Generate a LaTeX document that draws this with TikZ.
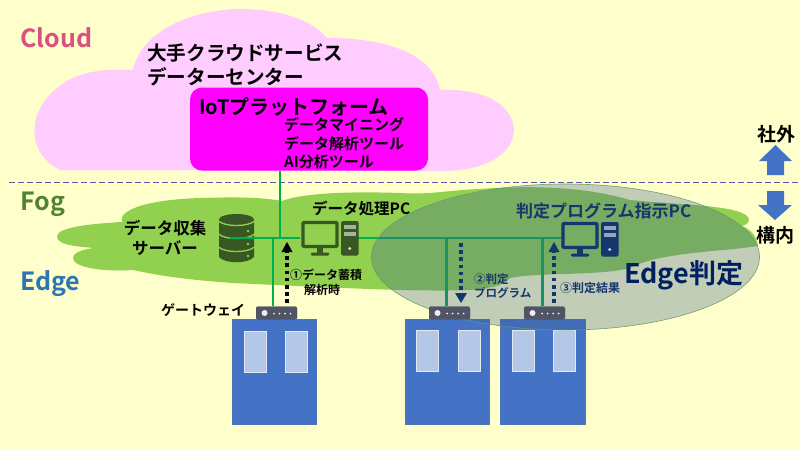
\documentclass[tikz,border=0pt]{standalone}
\usepackage{fontspec}
\setmainfont{Noto Sans CJK JP}[BoldFont={Noto Sans CJK JP Bold}]
\usetikzlibrary{arrows.meta,shapes.geometric}
\definecolor{bgc}{RGB}{255,255,204}
\definecolor{pinkc}{RGB}{255,204,255}
\definecolor{magc}{RGB}{255,0,255}
\definecolor{fogc}{RGB}{146,208,80}
\definecolor{linec}{RGB}{0,176,80}
\definecolor{dkgreen}{RGB}{56,87,35}
\definecolor{navy}{RGB}{22,54,110}
\definecolor{bldg}{RGB}{68,114,196}
\definecolor{winc}{RGB}{180,199,231}
\definecolor{gwc}{RGB}{80,84,100}
\definecolor{ellc}{RGB}{61,94,142}
\tikzset{
  x=1pt,y=-1pt,
  lbl/.style={inner sep=0pt,anchor=west,font=\bfseries\fontsize{#1}{#1}\selectfont},
  ctr/.style={inner sep=0pt,anchor=center,font=\bfseries\fontsize{#1}{#1}\selectfont},
  net/.style={draw=linec,line width=2.8pt},
  flow/.style={line width=3.4pt,dash pattern=on 3.6pt off 3.6pt},
  house/.style={fill=bldg,draw=bldg!80!gray,line width=.5pt,inner sep=0pt,minimum width=#1,minimum height=105pt},
  win/.style={fill=winc,draw=white!60!winc,line width=.4pt,inner sep=0pt,minimum width=22pt,minimum height=41pt},
  gate/.style={fill=gwc,rounded corners=2pt,inner sep=0pt,minimum width=41pt,minimum height=13pt},
  bigarrow/.style={fill=bldg},
  pics/pcicon/.style={code={
    \draw[#1,line width=3.2pt,rounded corners=1pt] (-17,-15.5) rectangle (17,8.5);
    \fill[#1] (-3,9) rectangle (3,15);
    \fill[#1,rounded corners=1pt] (-9,14.5) rectangle (9,17.5);
    \fill[#1,rounded corners=1.5pt] (21,-17) rectangle (38.5,17.5);
    \fill[white!55!#1] (24,-13) rectangle (35.5,-9.5);
    \fill[white!55!#1] (24,-6) rectangle (35.5,-2);
    \fill[white!80!#1] (29.8,10.5) circle (1.6);
  }},
  pics/gateicons/.style={code={
    \fill[white!90!gwc] (-12,0) circle (3);
    \foreach \d in {1,2,3,4} \fill[white!90!gwc] (-8+\d*5.5,0.5) circle (1);
  }}
}
\begin{document}
\begin{tikzpicture}
\useasboundingbox (0,0) rectangle (800,450);
\fill[bgc] (0,0) rectangle (800,450);
% cloud
\fill[pinkc] (60,170)
  .. controls (20,150) and (27,95) .. (80,75)
  .. controls (95,70) and (115,69) .. (133,70)
  .. controls (140,35) and (185,10) .. (240,9)
  .. controls (280,9) and (312,20) .. (327,38)
  .. controls (350,38) and (430,40) .. (440,90)
  .. controls (490,88) and (513,108) .. (514,130)
  .. controls (513,152) and (490,170) .. (445,171)
  -- cycle;
\node[fill=magc,rounded corners=12pt,inner sep=0pt,minimum width=238pt,minimum height=83pt] (plat) at (309,129) {};
\coordinate (dashL) at (9,182.5);
\coordinate (dashR) at (800,182.5);
\draw[draw=gray!70!blue,line width=1.2pt,dash pattern=on 6pt off 3pt] (dashL) -- (dashR);
% fog
\fill[fogc] (57,236)
  .. controls (58,228) and (85,224) .. (122,222)
  .. controls (118,212) and (140,200) .. (200,198)
  .. controls (235,197) and (260,197) .. (282,201)
  .. controls (300,194) and (340,191) .. (400,193)
  .. controls (430,195) and (450,190) .. (480,189)
  .. controls (520,186) and (580,185) .. (630,200)
  .. controls (680,205) and (745,205) .. (749,219)
  .. controls (749,224) and (745,225) .. (742,226)
  .. controls (750,229) and (757,236) .. (758,246)
  .. controls (720,252) and (660,252) .. (630,268)
  .. controls (600,276) and (540,272) .. (510,278)
  .. controls (505,284) and (500,287) .. (470,290)
  .. controls (420,292) and (340,288) .. (233,283)
  .. controls (190,280) and (160,276) .. (133,270)
  .. controls (105,272) and (73,268) .. (73,258)
  .. controls (73,252) and (85,249) .. (94,248)
  .. controls (70,246) and (57,244) .. (57,236) -- cycle;
% db icon
\fill[dkgreen] (219,219) -- (219,257) .. controls (225,264) and (248,264) .. (254,257) -- (254,219) -- cycle;
\fill[dkgreen] (236.5,219.5) ellipse (17.5 and 5.5);
\foreach \yy in {221,234,247}
  \draw[fogc,line width=1.3pt] (218.5,\yy) .. controls (225,\yy+6) and (248,\yy+6) .. (254.5,\yy);
\foreach \yy in {231,244,256}
  \fill[fogc] (248,\yy) circle (1.3);
% coordinates for network
\coordinate (db) at (230,238);
\coordinate (pc1L) at (300,238);
\coordinate (pc1R) at (358,238);
\coordinate (pc2L) at (561,238);
\coordinate (j1) at (280,238);
\coordinate (j0) at (273,238);
\coordinate (j2) at (446.5,238);
\coordinate (j3) at (542.5,238);
\node[gate] (gw1) at (276.5,313) {};
\node[gate] (gw2) at (449.5,313) {};
\node[gate] (gw3) at (544.5,313) {};
\draw[net] (db) -- (pc1L);
\draw[net] (plat.south -| j1) -- (j1);
\draw[net] (j0) -- (j0 |- gw1.north);
\draw[net] (pc1R) -- (pc2L);
\draw[net] (j2) -- (j2 |- gw2.north);
\draw[net] (j3) -- (j3 |- gw3.north);
\pic at (320,238) {pcicon=dkgreen};
% buildings
\node[house=84pt] (b1) at (274,372) {};
\node[house=84pt] (b2) at (447,372) {};
\node[house=85pt] (b3) at (542.5,372) {};
\foreach \wx/\wy in {255/352,296/352,427.5/351,469/351,523/351,564/351}
  \node[win] at (\wx,\wy) {};
% highlight ellipse
\node[ellipse,fill=ellc,fill opacity=.31,draw=gray!80!green,draw opacity=.9,line width=.6pt,inner sep=0pt,minimum width=388pt,minimum height=146pt] (edge) at (565.5,257) {};
\node[gate] at (gw1) {};
\node[gate] at (gw2) {};
\node[gate] at (gw3) {};
\pic at (276.5,313) {gateicons};
\pic at (449.5,313) {gateicons};
\pic at (544.5,313) {gateicons};
\pic at (580,239) {pcicon=navy};
% flows
\coordinate (a1t) at (287,242);
\coordinate (a2t) at (461,303);
\coordinate (a3t) at (554,242);
\draw[flow,black] (287,303) -- (287,252);
\fill[black] (a1t) -- (281.5,252) -- (292.5,252) -- cycle;
\draw[flow,navy] (461,243) -- (461,293);
\fill[navy] (a2t) -- (455,293) -- (467,293) -- cycle;
\draw[flow,navy] (554,303) -- (554,252);
\fill[navy] (a3t) -- (548.5,252) -- (559.5,252) -- cycle;
% direction arrows
\fill[bigarrow] (775.5,145) -- (792,161) -- (784,161) -- (784,175) -- (767,175) -- (767,161) -- (759,161) -- cycle;
\fill[bigarrow] (775,220) -- (792,205) -- (784,205) -- (784,191) -- (767,191) -- (767,205) -- (758,205) -- cycle;
% labels
\node[lbl=25] (tcloud) at (20,38) {\color[RGB]{217,82,127}Cloud};
\node[lbl=25] (tfog) at (20,204) {\color[RGB]{84,130,53}Fog};
\node[lbl=25] (tedge) at (20,284) {\color[RGB]{46,117,182}Edge};
\node[lbl=19.6] (t1) at (147,53) {大手クラウドサービス};
\node[lbl=19.6] (t2) at (147,77) {データーセンター};
\node[lbl=20] (t3) at (199,107) {IoTプラットフォーム};
\node[lbl=15] (t4) at (284,125) {データマイニング};
\node[lbl=15] (t5) at (284,144) {データ解析ツール};
\node[lbl=15] (t6) at (284,162) {AI分析ツール};
\node[lbl=15.5] (t7) at (312,209) {データ処理PC};
\node[lbl=17,text=navy] (t8) at (516,211) {判定プログラム指示PC};
\node[ctr=16.5] (t9) at (165,228) {データ収集};
\node[ctr=16.5] (t10) at (165,248) {サーバー};
\node[lbl=12] (t11) at (290,275) {①データ蓄積};
\node[lbl=12] (t12) at (304,290) {解析時};
\node[lbl=14] (t13) at (161,310) {ゲートウェイ};
\node[lbl=11.5,text=navy] (t14) at (474,279) {②判定};
\node[lbl=11.5,text=navy] (t15) at (474,293) {プログラム};
\node[lbl=12,text=navy] (t16) at (560,288) {③判定結果};
\node[lbl=27,text={rgb,255:red,0;green,32;blue,96}] (t17) at (624,275) {Edge判定};
\node[ctr=19] (t18) at (776,134) {社外};
\node[ctr=19] (t19) at (775,235) {構内};
\end{tikzpicture}
\end{document}
